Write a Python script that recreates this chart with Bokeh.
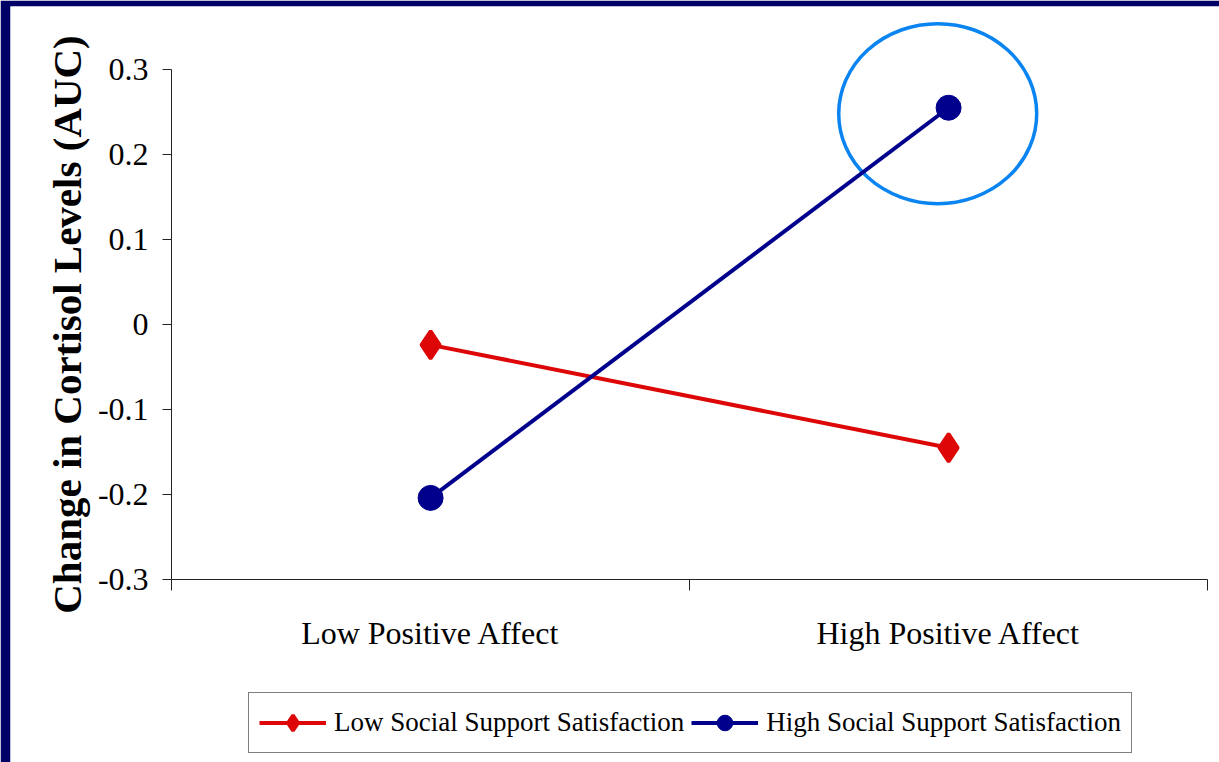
from bokeh.plotting import figure
from bokeh.models import Range1d, FixedTicker, Legend, LegendItem
from bokeh.embed import file_html
from bokeh.resources import INLINE

categories = ["Low Positive Affect", "High Positive Affect"]
low_support = [-0.024, -0.145]
high_support = [-0.204, 0.255]
series_names = ["Low Social Support Satisfaction", "High Social Support Satisfaction"]
y_ticks = [-0.3, -0.2, -0.1, 0.0, 0.1, 0.2, 0.3]
y_tick_labels = ["-0.3", "-0.2", "-0.1", "0", "0.1", "0.2", "0.3"]

FONT = "Liberation Serif"
RED = "#DD0707"
NAVY = "#00008C"
FRAME_NAVY = "#000066"

xs = [i + 0.5 for i in range(len(categories))]

# the frame covers the whole white slide area; axes are pinned inside it
p = figure(width=1219, height=762, output_backend="svg", toolbar_location=None,
           x_range=Range1d(-0.311, 2.023), y_range=Range1d(-0.5153, 0.3741),
           min_border_left=10, min_border_top=6, min_border_right=0, min_border_bottom=0)
p.outline_line_color = None
p.xgrid.visible = False
p.ygrid.visible = False
p.background_fill_color = "white"
p.border_fill_color = FRAME_NAVY

# highlight ellipse around the high-support / high-affect point
p.ellipse(x=[xs[1] - 0.021], y=[high_support[1] - 0.007], width=[198], height=[180],
          width_units="screen", height_units="screen",
          fill_color=None, line_color="#0A84F0", line_width=3.5)

r1l = p.line(xs, low_support, line_color=RED, line_width=4)
r1m = p.scatter(xs, low_support, marker="diamond", size=28,
                fill_color=RED, line_color=RED, line_width=3.5)
r2l = p.line(xs, high_support, line_color=NAVY, line_width=4)
r2m = p.scatter(xs, high_support, marker="circle", size=25,
                fill_color=NAVY, line_color=NAVY)

# y axis
yax = p.yaxis[0]
yax.fixed_location = 0
yax.bounds = (y_ticks[0], y_ticks[-1])
yax.ticker = FixedTicker(ticks=y_ticks, minor_ticks=[])
yax.major_label_overrides = {t: l for t, l in zip(y_ticks, y_tick_labels)}
yax.axis_label = "Change in Cortisol Levels (AUC)"
yax.axis_label_text_font = FONT
yax.axis_label_text_font_style = "bold"
yax.axis_label_text_font_size = "41px"
yax.axis_label_text_color = "black"
yax.axis_label_standoff = 5
yax.major_label_text_font = FONT
yax.major_label_text_font_size = "32px"
yax.major_label_text_color = "black"
yax.major_label_standoff = 14
yax.major_tick_out = 9
yax.major_tick_in = 0
yax.axis_line_color = "#222222"
yax.major_tick_line_color = "#222222"
yax.minor_tick_line_color = None

# x axis
xax = p.xaxis[0]
xax.fixed_location = y_ticks[0]
xax.bounds = (0, len(categories))
xax.ticker = FixedTicker(ticks=xs, minor_ticks=list(range(len(categories) + 1)))
xax.major_label_overrides = {x: c for x, c in zip(xs, categories)}
xax.major_label_text_font = FONT
xax.major_label_text_font_size = "32px"
xax.major_label_text_color = "black"
xax.major_tick_line_color = None
xax.major_tick_out = 0
xax.major_tick_in = 0
xax.major_label_standoff = 25
xax.minor_tick_out = 11
xax.minor_tick_in = 0
xax.minor_tick_line_color = "#222222"
xax.axis_line_color = "#222222"

legend = Legend(items=[LegendItem(label=series_names[0], renderers=[r1l, r1m]),
                       LegendItem(label=series_names[1], renderers=[r2l, r2m])],
                orientation="horizontal", location=(238, 9))
legend.label_text_font = FONT
legend.label_text_font_size = "27px"
legend.label_text_color = "black"
legend.glyph_width = 67
legend.glyph_height = 39
legend.label_standoff = 8
legend.spacing = 7
legend.padding = 10
legend.margin = 0
legend.border_line_color = "black"
legend.border_line_width = 1
legend.background_fill_color = "white"
legend.background_fill_alpha = 1
p.add_layout(legend, "center")

open("out.html", "w").write(file_html(p, INLINE))
